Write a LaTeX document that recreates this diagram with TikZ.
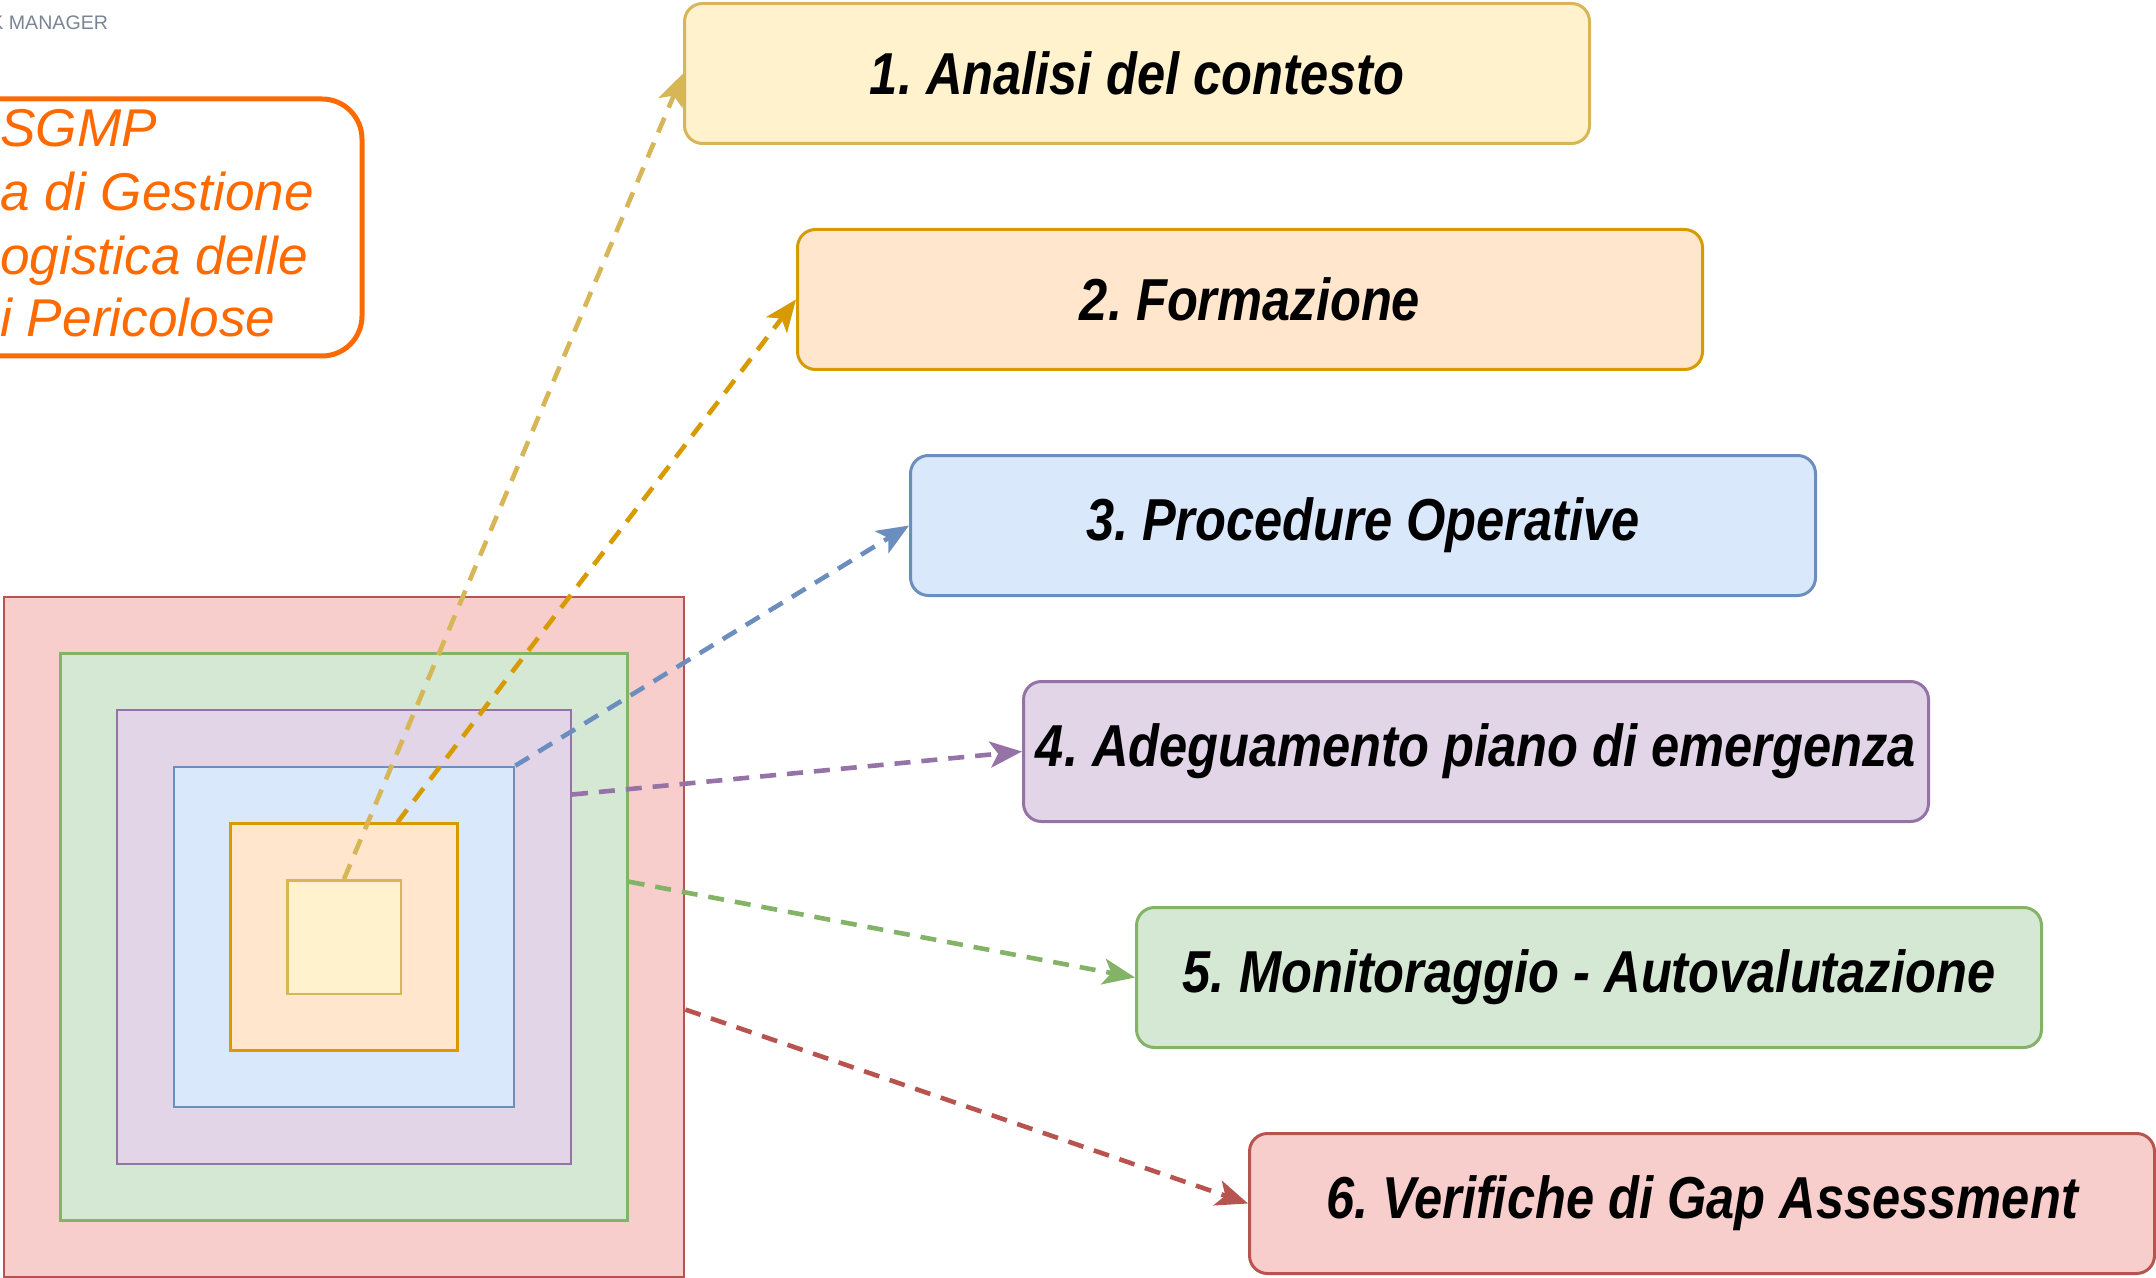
\documentclass[tikz,border=0pt]{standalone}
\usepackage{fontspec}
\setmainfont{Liberation Sans}
\usetikzlibrary{arrows.meta}
\frenchspacing

\definecolor{ylwfill}{HTML}{FFF2CC}
\definecolor{ylwline}{HTML}{D6B656}
\definecolor{orgfill}{HTML}{FFE6CC}
\definecolor{orgline}{HTML}{D79B00}
\definecolor{blufill}{HTML}{DAE8FC}
\definecolor{bluline}{HTML}{6C8EBF}
\definecolor{purfill}{HTML}{E1D5E7}
\definecolor{purline}{HTML}{9673A6}
\definecolor{grnfill}{HTML}{D5E8D4}
\definecolor{grnline}{HTML}{82B366}
\definecolor{redfill}{HTML}{F8CECC}
\definecolor{redline}{HTML}{B85450}
\definecolor{sgmporange}{HTML}{FF6A00}
\definecolor{hdrgray}{HTML}{7B8494}

\tikzset{
    layer/.style={draw, line width=1.2pt, minimum size=#1, inner sep=0},
    stepbox/.style={draw, line width=1.5pt, rounded corners=9pt, anchor=west,
        minimum width=452.5pt, minimum height=70pt, inner sep=0,
        font=\fontsize{25.3}{30}\selectfont\bfseries\itshape},
    link/.style={line width=2.3pt, dash pattern=on 8pt off 5.5pt,
        -{Stealth[length=16pt,width=13pt,inset=4pt]}},
    titletext/.style={anchor=base west, inner sep=0, text=sgmporange,
        font=\fontsize{26.6}{32}\selectfont\itshape}
}

\begin{document}
\begin{tikzpicture}[x=0.5pt,y=-0.5pt]
    \useasboundingbox (0,0) rectangle (2156,1278);

    % header and title frame, cut at the left edge
    \node[anchor=base west, inner sep=0, text=hdrgray,
        font=\fontsize{9.8}{12}\selectfont] (hdr) at (-10,30) {K MANAGER};
    \node[draw=sgmporange, line width=2.5pt, rounded corners=20pt, anchor=north east,
        minimum width=260pt, minimum height=128.5pt] (frame) at (364.5,96.5) {};
    \foreach \y/\txt [count=\i] in {147/SGMP, 211/a di Gestione, 275/ogistica delle, 337/i Pericolose}{
        \node[titletext] (t\i) at (0,\y) {\txt};
    }

    % nested squares
    \foreach \k/\f/\l in {6/redfill/redline, 5/grnfill/grnline, 4/purfill/purline,
                          3/blufill/bluline, 2/orgfill/orgline, 1/ylwfill/ylwline}{
        \node[layer={56.7pt*\k}, fill=\f, draw=\l] (s\k) at (344,937) {};
    }

    % steps
    \foreach \i/\f/\l/\txt in {1/ylwfill/ylwline/{1. Analisi del contesto},
                               2/orgfill/orgline/{2. Formazione},
                               3/blufill/bluline/{3. Procedure Operative},
                               4/purfill/purline/{4. Adeguamento piano di emergenza},
                               5/grnfill/grnline/{5. Monitoraggio - Autovalutazione},
                               6/redfill/redline/{6. Verifiche di Gap Assessment}}{
        \node[stepbox, fill=\f, draw=\l] (b\i) at ({683+113*(\i-1)},{73.5+226*(\i-1)})
            {\scalebox{1}[1.17]{\txt}};
    }

    % links
    \foreach \src/\i/\c in {s1.north/1/ylwline, s2.65/2/orgline, s3.north east/3/bluline,
                            s4.32/4/purline, s5.11/5/grnline, s6.-12/6/redline}{
        \draw[link, color=\c] (\src) -- (b\i.west);
    }
\end{tikzpicture}
\end{document}
